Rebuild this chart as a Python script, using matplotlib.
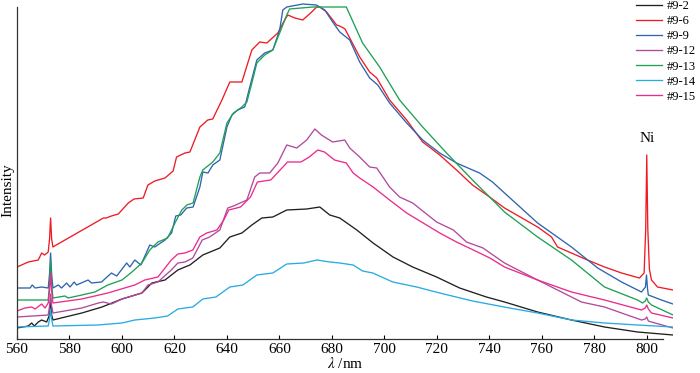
import matplotlib
matplotlib.use("Agg")
import matplotlib.pyplot as plt

# ---- data (wavelength nm, intensity a.u.) ----
labels = ["#9-2", "#9-6", "#9-9", "#9-12", "#9-13", "#9-14", "#9-15"]
colors = ["#231f20", "#ed1c24", "#2f64b0", "#b04a9f", "#1fa055", "#29abe2", "#ec2c8c"]

x_9_2 = [560, 564.3, 565.6, 566.6, 568.1, 569.4, 571.3, 572.4, 572.8, 573.2, 573.7, 584.7, 592.4, 600,
         607.6, 611.4, 616.4, 621.3, 624, 625.9, 630.8, 637.3, 641.1, 645.7, 649.5, 653.3, 657.5,
         662.8, 670.4, 675.4, 679.2, 683, 689.5, 695.7, 703.3, 710.8, 719.9, 728.7, 738.9, 745.8,
         758.4, 771.3, 783.9, 796.5, 810]
y_9_2 = [11, 13, 16, 13, 17, 19, 17, 24, 40, 24, 19, 26, 32, 40,
         46, 56, 59, 69, 72, 74, 84, 91, 102, 106, 114, 121, 122,
         129, 130, 132, 124, 121, 109, 96, 82, 72, 62, 51, 42, 37,
         27, 19, 12, 7, 4]

x_9_6 = [560, 564.3, 568.1, 569.4, 570.5, 571.9, 572.4, 572.8, 573.2, 573.7, 574.3, 591.6, 592.9, 594,
         596, 598.6, 602.4, 604.6, 608.1, 609.9, 612.5, 616.4, 619.5, 620.8, 624, 625.9, 629.7,
         632.7, 634.6, 638.1, 641.1, 645.7, 649.5, 652.5, 655.2, 659.4, 662, 663.2, 665.9, 668.9,
         672.3, 674.2, 675.4, 678, 681.8, 683, 685, 687, 690.6, 694.4, 697.1, 702, 708.5, 714.6,
         721.1, 727.5, 733.6, 740.1, 745.8, 758.4, 763.2, 763.7, 766, 777.4, 783.9, 790.4, 797.2,
         799, 799.6, 800, 800.4, 801, 801.8, 804.1, 810]
y_9_6 = [72, 77, 79, 86, 84, 87, 100, 121, 100, 92, 93, 119, 121, 121,
         123, 125, 136, 140, 141, 154, 158, 161, 168, 182, 186, 187, 212,
         219, 220, 239, 257, 257, 289, 297, 296, 306, 319, 324, 321, 319,
         327, 332, 332, 327, 314, 313, 310, 300, 282, 267, 261, 239, 219, 197,
         184, 169, 154, 142, 131, 112, 103, 102, 92, 79, 72, 66, 61,
         66, 110, 184, 110, 70, 59, 52, 49]

x_9_9 = [560, 565, 565.8, 566.9, 569.4, 571.9, 572.4, 572.8, 573.2, 573.7, 575.7, 577, 578.9, 580.2,
         581.8, 582.7, 587.1, 588.4, 592.2, 596, 598, 601.8, 603, 604.9, 607.2, 610.6, 612.5,
         616.4, 618.9, 620.5, 622.4, 624, 624.7, 627.1, 629.7, 630.8, 632.8, 634.6, 637.3, 640,
         641.9, 644.1, 646.8, 648.7, 651.4, 654.4, 657.5, 660.1, 661.3, 662.8, 668.9, 674.1,
         677.3, 680.3, 683, 686.8, 690.6, 694.4, 697.5, 702, 708.5, 714.6, 721.1, 727.5, 733.6,
         736.3, 741.2, 745.8, 758.4, 771.3, 781.3, 790.4, 798, 799.5, 799.9, 800.3, 800.6, 805.6, 810]
y_9_9 = [51, 51, 54, 51, 52, 51, 65, 86, 65, 51, 54, 51, 56, 52,
         57, 54, 59, 56, 57, 66, 63, 76, 72, 79, 74, 94, 92,
         99, 106, 123, 124, 129, 131, 132, 152, 167, 166, 174, 179, 212,
         224, 229, 232, 252, 279, 286, 289, 309, 329, 332, 335, 334,
         329, 317, 307, 299, 277, 261, 254, 236, 216, 199, 186, 176, 169,
         166, 157, 146, 116, 92, 71, 57, 47, 52, 64, 50, 44, 39, 35]

x_9_12 = [560, 571.9, 572.4, 572.8, 573.2, 573.7, 584.7, 591, 592.9, 596, 600, 607.6, 609.9, 613.7,
          618.8, 621.3, 624, 627, 630.6, 633.4, 637.3, 640.3, 642.5, 647.6, 650.6, 652.5, 656.3,
          659.4, 662.8, 666.6, 670.4, 673.5, 676, 680.3, 684.9, 686.8, 690.6, 694.4, 697.1, 702,
          705.8, 710.8, 719.9, 726.3, 731.3, 737.6, 741.4, 745.8, 758.4, 775.1, 783.9, 798,
          799.4, 800, 800.6, 801.8, 810]
y_9_12 = [22, 24, 33, 45, 33, 26, 31, 36, 37, 35, 40, 46, 54, 57,
          69, 76, 77, 81, 99, 102, 109, 131, 133, 139, 162, 166, 166,
          176, 194, 191, 199, 210, 204, 197, 199, 191, 182, 172, 171, 152,
          142, 136, 117, 109, 97, 91, 84, 76, 59, 37, 32, 19,
          20, 22, 18, 17, 11]

x_9_13 = [560, 571.9, 572.4, 572.8, 573.2, 573.7, 578.3, 579.5, 584.7, 589.7, 594.6, 600, 603.8, 607.6,
          610.6, 613.7, 617.4, 620.2, 622.8, 624, 624.7, 627.1, 629.7, 630.8, 634.6, 637.3, 640,
          642.5, 645.7, 647.6, 649.5, 651.4, 654.4, 657.5, 660.1, 662.8, 663.9, 672.7, 685.5,
          691.7, 698.2, 705.8, 714.6, 723.7, 733.6, 740.1, 745.8, 758.4, 771.3, 783.9, 796.5,
          798.4, 799.4, 800, 800.6, 801.8, 810]
y_9_13 = [39, 39, 55, 78, 55, 41, 43, 41, 44, 47, 54, 59, 67, 76,
          89, 97, 101, 116, 129, 132, 134, 136, 162, 169, 177, 186, 216,
          226, 232, 237, 256, 276, 284, 289, 306, 324, 330, 332, 332,
          296, 272, 239, 212, 186, 159, 142, 127, 102, 79, 52, 39,
          36, 38, 41, 37, 34, 24]

x_9_14 = [560, 571.9, 572.4, 572.8, 573.2, 573.7, 590.8, 600, 604.9, 612.5, 617.4, 621.3, 624, 627,
          630.8, 635.8, 641.1, 646.1, 651.4, 657.5, 662.8, 669.3, 674.3, 679.2, 683, 688.1, 691.7,
          695.6, 703.2, 712.3, 721.1, 733.6, 747.7, 758.4, 771.3, 783.9, 796.5, 810]
y_9_14 = [12, 13, 20, 30, 20, 13, 14, 16, 19, 21, 23, 30, 31, 32,
          40, 42, 52, 54, 64, 66, 75, 76, 79, 77, 76, 74, 68,
          66, 57, 52, 46, 38, 31, 26, 19, 16, 14, 12]

x_9_15 = [560, 563, 565.6, 566.9, 569.4, 570.7, 571.9, 572.4, 572.8, 573.2, 573.7, 584.7, 594.6, 601,
          604.9, 608.7, 613.7, 618.8, 621.3, 624, 627, 629.7, 632.3, 636.2, 638.8, 640.7, 645.2,
          649, 651.6, 656.7, 659.2, 663.1, 668.2, 671.4, 674.6, 677.2, 681, 685.5, 688.1, 690.6,
          695.7, 702, 708.5, 714.8, 721.1, 727.5, 733.9, 740.2, 745.8, 758.4, 771.3, 783.9, 798,
          799.4, 800, 800.6, 801.8, 810]
y_9_15 = [28, 31, 32, 30, 35, 31, 36, 48, 66, 48, 36, 40, 46, 51,
          54, 59, 62, 79, 85, 86, 89, 102, 106, 109, 119, 129, 132,
          142, 157, 159, 166, 177, 177, 182, 189, 187, 179, 176, 166, 161,
          152, 139, 126, 116, 106, 97, 89, 81, 72, 59, 47, 39, 29,
          31, 34, 30, 26, 21]

series_x = [x_9_2, x_9_6, x_9_9, x_9_12, x_9_13, x_9_14, x_9_15]
series_y = [y_9_2, y_9_6, y_9_9, y_9_12, y_9_13, y_9_14, y_9_15]
xticks = [560, 580, 600, 620, 640, 660, 680, 700, 720, 740, 760, 780, 800]

# ---- figure ----
plt.rcParams['font.family'] = ['Liberation Serif', 'DejaVu Serif']
plt.rcParams['mathtext.fontset'] = 'stix'

fig = plt.figure(figsize=(7.0, 3.73), dpi=100)
W, H = 700, 373
ax = fig.add_axes([17 / W, 34 / H, 656 / W, 336 / H])

for xs, ys, c, lab in zip(series_x, series_y, colors, labels):
    ax.plot(xs, ys, color=c, lw=0.95, label=lab, solid_joinstyle='round')

ax.set_xlim(560, 810)
ax.set_ylim(0, 336)
ax.spines['top'].set_visible(False)
ax.spines['right'].set_visible(False)
ax.spines['bottom'].set_bounds(560, 806)
ax.spines['left'].set_bounds(0, 332)
for s in ('bottom', 'left'):
    ax.spines[s].set_linewidth(0.9)
    ax.spines[s].set_color('#333333')

ax.set_xticks(xticks)
ax.set_xticklabels([str(t) for t in xticks])
ax.set_yticks([])
ax.tick_params(axis='x', direction='in', length=3, width=0.8, labelsize=11, pad=3)

ax.set_xlabel(r'$\lambda$ /nm', fontsize=11, labelpad=0)
ax.set_ylabel('Intensity', fontsize=11)
ax.yaxis.set_label_coords(-0.004, 0.443)

ax.text(800, 200, 'Ni', fontsize=11, ha='center', va='center')

leg = fig.legend(loc='upper left', bbox_to_anchor=(636 / W, 1.0), frameon=False,
                 fontsize=9, handlelength=2.1, handletextpad=0.4, labelspacing=0.25,
                 borderaxespad=0, borderpad=0)

fig.savefig('out.png', dpi=100)
